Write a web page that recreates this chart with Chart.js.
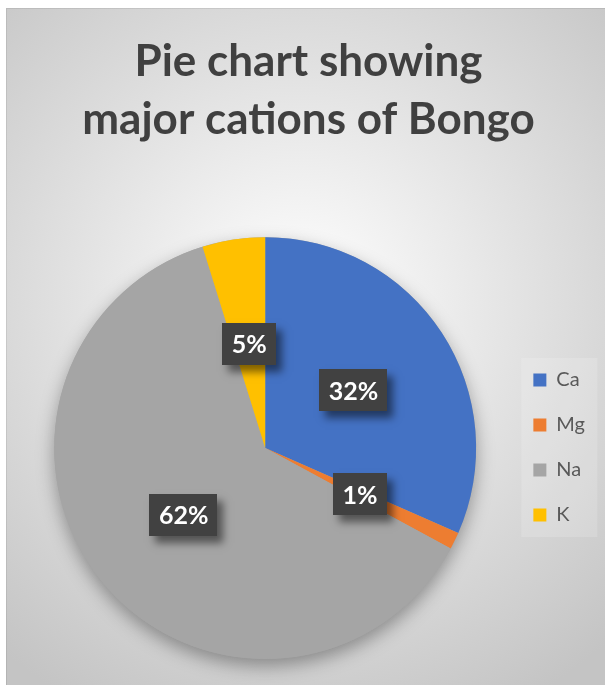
<!DOCTYPE html>
<html>
<head>
<meta charset="utf-8">
<script src="https://cdn.jsdelivr.net/npm/chart.js@4.4.1/dist/chart.umd.min.js"></script>
<style>
html, body { margin: 0; padding: 0; background: #fff; }
#wrap { width: 605px; height: 685px; }
</style>
</head>
<body>
<div id="wrap"><canvas id="chart" width="605" height="685"></canvas></div>
<script>
// share of each cation, % of total
var CATIONS = ['Ca', 'Mg', 'Na', 'K'];
var SHARES = [31.6, 1.3, 62.3, 4.8];
var COLORS = ['#4472C4', '#ED7D31', '#A5A5A5', '#FFC000'];
var TITLE_LINES = ['Pie chart showing', 'major cations of Bongo'];

var FONT = 'Lato, "Open Sans", sans-serif';
var LEGEND_FIRST_Y = 380; // centre of the first legend row

// gradient panel behind everything, plus the faint legend box
var panelPlugin = {
    id: 'panel',
    beforeDraw: function (chart) {
        var ctx = chart.ctx;
        ctx.save();
        ctx.fillStyle = '#ffffff';
        ctx.fillRect(0, 0, chart.width, chart.height);
        var g = ctx.createRadialGradient(300, 300, 0, 300, 300, 460);
        g.addColorStop(0, '#ffffff');
        g.addColorStop(1, '#c4c4c4');
        ctx.fillStyle = g;
        ctx.fillRect(6, 8, chart.width - 6, chart.height - 8);
        ctx.strokeStyle = 'rgba(0,0,0,0.08)';
        ctx.lineWidth = 1;
        ctx.beginPath();
        ctx.moveTo(6.5, chart.height);
        ctx.lineTo(6.5, 8.5);
        ctx.lineTo(chart.width, 8.5);
        ctx.stroke();

        var boxes = chart.legend && chart.legend.legendHitBoxes;
        if (boxes && boxes.length) {
            var first = boxes[0];
            var last = boxes[boxes.length - 1];
            ctx.fillStyle = 'rgba(255,255,255,0.16)';
            ctx.fillRect(first.left - 12, first.top - 12, 76, last.top + last.height - first.top + 24);
        }
        ctx.restore();
    },
    // the built-in legend sits at the top of its column; move it down
    afterUpdate: function (chart) {
        var legend = chart.legend;
        if (!legend || !legend.legendHitBoxes.length) {
            return;
        }
        var hb = legend.legendHitBoxes[0];
        var dy = LEGEND_FIRST_Y - (hb.top + hb.height / 2);
        legend.top += dy;
        legend.bottom += dy;
        for (var i = 0; i < legend.legendHitBoxes.length; i++) {
            legend.legendHitBoxes[i].top += dy;
        }
    }
};

// soft shadow under the whole pie
var pieShadowPlugin = {
    id: 'pieShadow',
    beforeDatasetsDraw: function (chart) {
        var arc = chart.getDatasetMeta(0).data[0];
        if (!arc) {
            return;
        }
        var ctx = chart.ctx;
        ctx.save();
        ctx.shadowColor = 'rgba(0,0,0,0.35)';
        ctx.shadowBlur = 18;
        ctx.shadowOffsetX = 0;
        ctx.shadowOffsetY = 7;
        ctx.beginPath();
        ctx.arc(arc.x, arc.y, arc.outerRadius, 0, Math.PI * 2);
        ctx.fillStyle = '#a5a5a5';
        ctx.fill();
        ctx.restore();
    }
};

// dark percentage boxes at the middle of each slice
var labelPlugin = {
    id: 'pctLabels',
    afterDatasetsDraw: function (chart) {
        var ctx = chart.ctx;
        var data = chart.data.datasets[0].data;
        var total = 0;
        for (var i = 0; i < data.length; i++) {
            total += data[i];
        }
        var arcs = chart.getDatasetMeta(0).data;
        ctx.save();
        ctx.font = 'bold 25px ' + FONT;
        ctx.textAlign = 'center';
        ctx.textBaseline = 'middle';
        for (var j = 0; j < arcs.length; j++) {
            var p = arcs[j].tooltipPosition();
            var text = Math.round(data[j] / total * 100) + '%';
            var w = ctx.measureText(text).width + 19;
            var h = 42;
            ctx.save();
            ctx.shadowColor = 'rgba(0,0,0,0.5)';
            ctx.shadowBlur = 8;
            ctx.shadowOffsetX = 6;
            ctx.shadowOffsetY = 7;
            ctx.fillStyle = '#414141';
            ctx.fillRect(Math.round(p.x - w / 2), Math.round(p.y - h / 2), Math.round(w), h);
            ctx.restore();
            ctx.fillStyle = '#ffffff';
            ctx.fillText(text, p.x, p.y + 1);
        }
        ctx.restore();
    }
};

new Chart(document.getElementById('chart'), {
    type: 'pie',
    data: {
        labels: CATIONS,
        datasets: [{
            data: SHARES,
            backgroundColor: COLORS,
            borderWidth: 0
        }]
    },
    options: {
        responsive: false,
        animation: false,
        layout: {
            padding: { left: 22, right: 10, top: 8, bottom: 26 }
        },
        plugins: {
            title: {
                display: true,
                text: TITLE_LINES,
                color: '#404040',
                font: { family: FONT, size: 44, weight: 'bold', lineHeight: 1.32 },
                padding: { top: 25, bottom: 88 }
            },
            legend: {
                position: 'right',
                labels: {
                    boxWidth: 13,
                    boxHeight: 13,
                    padding: 25,
                    color: '#595959',
                    font: { family: FONT, size: 20 }
                }
            },
            tooltip: { enabled: false }
        }
    },
    plugins: [panelPlugin, pieShadowPlugin, labelPlugin]
});
</script>
</body>
</html>
